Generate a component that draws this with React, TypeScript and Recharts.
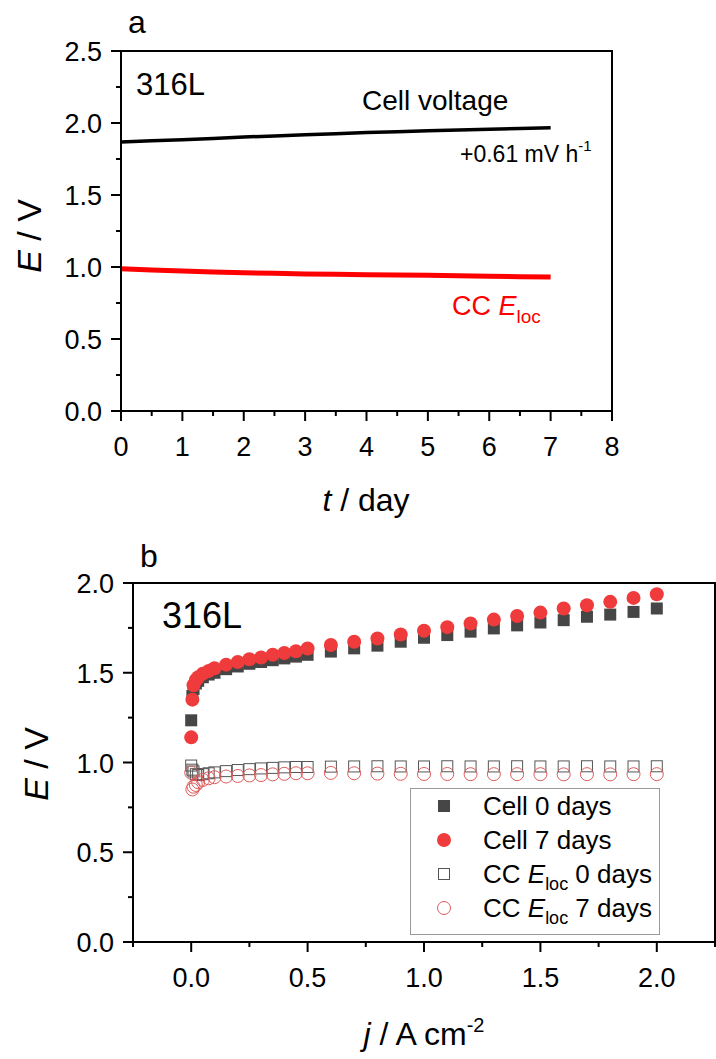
import React from 'react';
import { LineChart, Line, ScatterChart, Scatter, XAxis, YAxis, ReferenceArea, Legend } from 'recharts';

const FONT = '"Liberation Sans", Arial, sans-serif';

// panel a: galvanostatic run
const timeDays = [0, 0.5, 1, 1.5, 2, 2.5, 3, 3.5, 4, 4.5, 5, 5.5, 6, 6.5, 7];
const cellVoltage = [1.868, 1.876, 1.884, 1.893, 1.903, 1.910, 1.918, 1.926, 1.934, 1.940, 1.946, 1.952, 1.957, 1.962, 1.967];
const ccElocTime = [0.988, 0.979, 0.972, 0.966, 0.960, 0.956, 0.952, 0.949, 0.947, 0.944, 0.942, 0.939, 0.936, 0.933, 0.930];
const timeTicks = [0, 0.5, 1, 1.5, 2, 2.5, 3, 3.5, 4, 4.5, 5, 5.5, 6, 6.5, 7, 7.5, 8];
const voltTicksA = [0, 0.25, 0.5, 0.75, 1, 1.25, 1.5, 1.75, 2, 2.25, 2.5];

// panel b: polarisation curves
const currentDensity = [0, 0.005, 0.01, 0.02, 0.03, 0.05, 0.075, 0.1, 0.15, 0.2, 0.25, 0.3, 0.35, 0.4, 0.45, 0.5,
  0.6, 0.7, 0.8, 0.9, 1.0, 1.1, 1.2, 1.3, 1.4, 1.5, 1.6, 1.7, 1.8, 1.9, 2.0];
const cell0Days = [1.235, 1.37, 1.41, 1.44, 1.455, 1.475, 1.49, 1.50, 1.52, 1.535, 1.55, 1.56, 1.57, 1.58, 1.59, 1.60,
  1.618, 1.636, 1.651, 1.673, 1.695, 1.710, 1.729, 1.747, 1.764, 1.780, 1.793, 1.812, 1.824, 1.839, 1.858];
const cell7Days = [1.14, 1.35, 1.43, 1.46, 1.475, 1.495, 1.51, 1.525, 1.545, 1.56, 1.575, 1.585, 1.60, 1.61, 1.62, 1.635,
  1.655, 1.673, 1.691, 1.713, 1.734, 1.754, 1.774, 1.796, 1.816, 1.835, 1.858, 1.876, 1.895, 1.917, 1.937];
const cc0Days = [0.983, 0.96, 0.95, 0.935, 0.93, 0.935, 0.94, 0.945, 0.952, 0.958, 0.963, 0.967, 0.97, 0.973, 0.975, 0.975,
  0.977, 0.978, 0.979, 0.978, 0.978, 0.979, 0.978, 0.978, 0.979, 0.978, 0.978, 0.979, 0.978, 0.978, 0.979];
const cc7Days = [0.943, 0.85, 0.865, 0.875, 0.89, 0.903, 0.912, 0.918, 0.922, 0.925, 0.928, 0.93, 0.934, 0.937, 0.94, 0.94,
  0.942, 0.94, 0.938, 0.937, 0.936, 0.936, 0.935, 0.935, 0.935, 0.935, 0.934, 0.935, 0.934, 0.935, 0.935];
const currentTicks = [-0.25, 0, 0.25, 0.5, 0.75, 1, 1.25, 1.5, 1.75, 2, 2.25];
const voltTicksB = [0, 0.25, 0.5, 0.75, 1, 1.25, 1.5, 1.75, 2];
const legendNames = ['Cell 0 days', 'Cell 7 days', 'CC Eloc 0 days', 'CC Eloc 7 days'];

const timeData = timeDays.map((t, i) => ({ t, cell: cellVoltage[i], cc: ccElocTime[i] }));
const toPoints = (vals: number[]) => currentDensity.map((j, i) => ({ j, e: vals[i] }));

const halfStep = (v: number) => Math.abs(v * 2 - Math.round(v * 2)) < 1e-6;

const xTick = (isMajor: (v: number) => boolean, fmt: (v: number) => string) => (props: any) => {
  const { x, y, payload } = props;
  const major = isMajor(payload.value);
  return (
    <g>
      <line x1={x} y1={y} x2={x} y2={y + (major ? 10 : 5)} stroke="#000" strokeWidth={2} />
      {major && (
        <text x={x} y={y + 45} textAnchor="middle" fontSize={27} fontFamily={FONT} fill="#000">
          {fmt(payload.value)}
        </text>
      )}
    </g>
  );
};

const yTick = (props: any) => {
  const { x, y, payload } = props;
  const major = halfStep(payload.value);
  return (
    <g>
      <line x1={x} y1={y} x2={x - (major ? 10 : 5)} y2={y} stroke="#000" strokeWidth={2} />
      {major && (
        <text x={x - 19} y={y + 10} textAnchor="end" fontSize={27} fontFamily={FONT} fill="#000">
          {payload.value.toFixed(1)}
        </text>
      )}
    </g>
  );
};

const filledSquare = (p: any) => <rect x={p.cx - 6} y={p.cy - 6} width={12} height={12} fill="#464646" />;
const filledCircle = (p: any) => <circle cx={p.cx} cy={p.cy} r={7} fill="#ef3b3b" />;
const openSquare = (p: any) => (
  <rect x={p.cx - 5.5} y={p.cy - 5.5} width={11} height={11} fill="none" stroke="#555" strokeWidth={1} />
);
const openCircle = (p: any) => <circle cx={p.cx} cy={p.cy} r={6.5} fill="none" stroke="#e05a5a" strokeWidth={1} />;
const legendMarks = [filledSquare, filledCircle, openSquare, openCircle];

const renderLegend = () => (
  <svg width={250} height={147} style={{ display: 'block' }}>
    <rect x={0.5} y={0.5} width={249} height={146} fill="#fff" stroke="#999" strokeWidth={1} />
    {legendNames.map((name, i) => {
      const cy = 18 + i * 34;
      const Mark = legendMarks[i];
      const cc = name.startsWith('CC');
      return (
        <g key={name}>
          {Mark({ cx: 34, cy })}
          <text x={73} y={cy + 9} fontSize={26} fontFamily={FONT} fill="#000">
            {cc ? (
              <>
                CC <tspan fontStyle="italic">E</tspan>
                <tspan fontSize={18} dy={7}>loc</tspan>
                <tspan dy={-7}>{name.replace('CC Eloc', '')}</tspan>
              </>
            ) : name}
          </text>
        </g>
      );
    })}
  </svg>
);

const App = () => (
  <div style={{ position: 'absolute', left: 0, top: 0, width: 716, height: 1059, background: '#fff' }}>
    <div style={{ position: 'absolute', left: 0, top: 0 }}>
      <LineChart width={716} height={530} data={timeData} margin={{ top: 51, right: 104, bottom: 0, left: 0 }}>
        <XAxis dataKey="t" type="number" domain={[0, 8]} ticks={timeTicks} interval={0} height={119}
          axisLine={{ stroke: '#000', strokeWidth: 2 }} tickLine={false} tickSize={0} tickMargin={0}
          tick={xTick((v) => Number.isInteger(v), (v) => String(v))} />
        <YAxis type="number" domain={[0, 2.5]} ticks={voltTicksA} interval={0} width={121}
          axisLine={{ stroke: '#000', strokeWidth: 2 }} tickLine={false} tickSize={0} tickMargin={0} tick={yTick} />
        <ReferenceArea x1={0} x2={8} y1={0} y2={2.5} fill="none" stroke="#000" strokeWidth={2} />
        <Line type="linear" dataKey="cc" stroke="#ff0000" strokeWidth={5} dot={false} isAnimationActive={false} />
        <Line type="linear" dataKey="cell" stroke="#000" strokeWidth={3.5} dot={false} isAnimationActive={false} />
      </LineChart>
    </div>
    <div style={{ position: 'absolute', left: 0, top: 530 }}>
      <ScatterChart width={716} height={529} margin={{ top: 53, right: 1, bottom: 0, left: 0 }}>
        <XAxis dataKey="j" type="number" domain={[-0.25, 2.25]} ticks={currentTicks} interval={0} height={117}
          axisLine={{ stroke: '#000', strokeWidth: 2 }} tickLine={false} tickSize={0} tickMargin={0}
          tick={xTick(halfStep, (v) => v.toFixed(1))} />
        <YAxis dataKey="e" type="number" domain={[0, 2]} ticks={voltTicksB} interval={0} width={133}
          axisLine={{ stroke: '#000', strokeWidth: 2 }} tickLine={false} tickSize={0} tickMargin={0} tick={yTick} />
        <ReferenceArea x1={-0.25} x2={2.25} y1={0} y2={2} fill="none" stroke="#000" strokeWidth={2} />
        <Scatter data={toPoints(cell0Days)} shape={filledSquare} isAnimationActive={false} />
        <Scatter data={toPoints(cell7Days)} shape={filledCircle} isAnimationActive={false} />
        <Scatter data={toPoints(cc0Days)} shape={openSquare} isAnimationActive={false} />
        <Scatter data={toPoints(cc7Days)} shape={openCircle} isAnimationActive={false} />
        <Legend layout="vertical" align="center" verticalAlign="middle" content={renderLegend}
          wrapperStyle={{ position: 'absolute', left: 410, top: 258, width: 250, height: 147 }} />
      </ScatterChart>
    </div>
    <svg width={716} height={1059} style={{ position: 'absolute', left: 0, top: 0, pointerEvents: 'none' }}
      fontFamily={FONT} fill="#000">
      <text x={128} y={33} fontSize={32}>a</text>
      <text x={136} y={95} fontSize={31}>316L</text>
      <text x={362} y={110} fontSize={28}>Cell voltage</text>
      <text x={460} y={162} fontSize={23}>
        +0.61 mV h<tspan fontSize={15} dy={-11}>-1</tspan>
      </text>
      <text x={452} y={315} fontSize={27} fill="#ff0000">
        CC <tspan fontStyle="italic">E</tspan><tspan fontSize={19} dy={8}>loc</tspan>
      </text>
      <text transform="translate(41,236) rotate(-90)" textAnchor="middle" fontSize={34}>
        <tspan fontStyle="italic">E</tspan> / V
      </text>
      <text x={366} y={511} textAnchor="middle" fontSize={32}>
        <tspan fontStyle="italic">t</tspan> / day
      </text>
      <text x={140} y={567} fontSize={32}>b</text>
      <text x={162} y={628} fontSize={36}>316L</text>
      <text transform="translate(48,764) rotate(-90)" textAnchor="middle" fontSize={34}>
        <tspan fontStyle="italic">E</tspan> / V
      </text>
      <text x={424} y={1045} textAnchor="middle" fontSize={32}>
        <tspan fontStyle="italic">j</tspan> / A cm<tspan fontSize={20} dy={-13}>-2</tspan>
      </text>
    </svg>
  </div>
);

export default App;
